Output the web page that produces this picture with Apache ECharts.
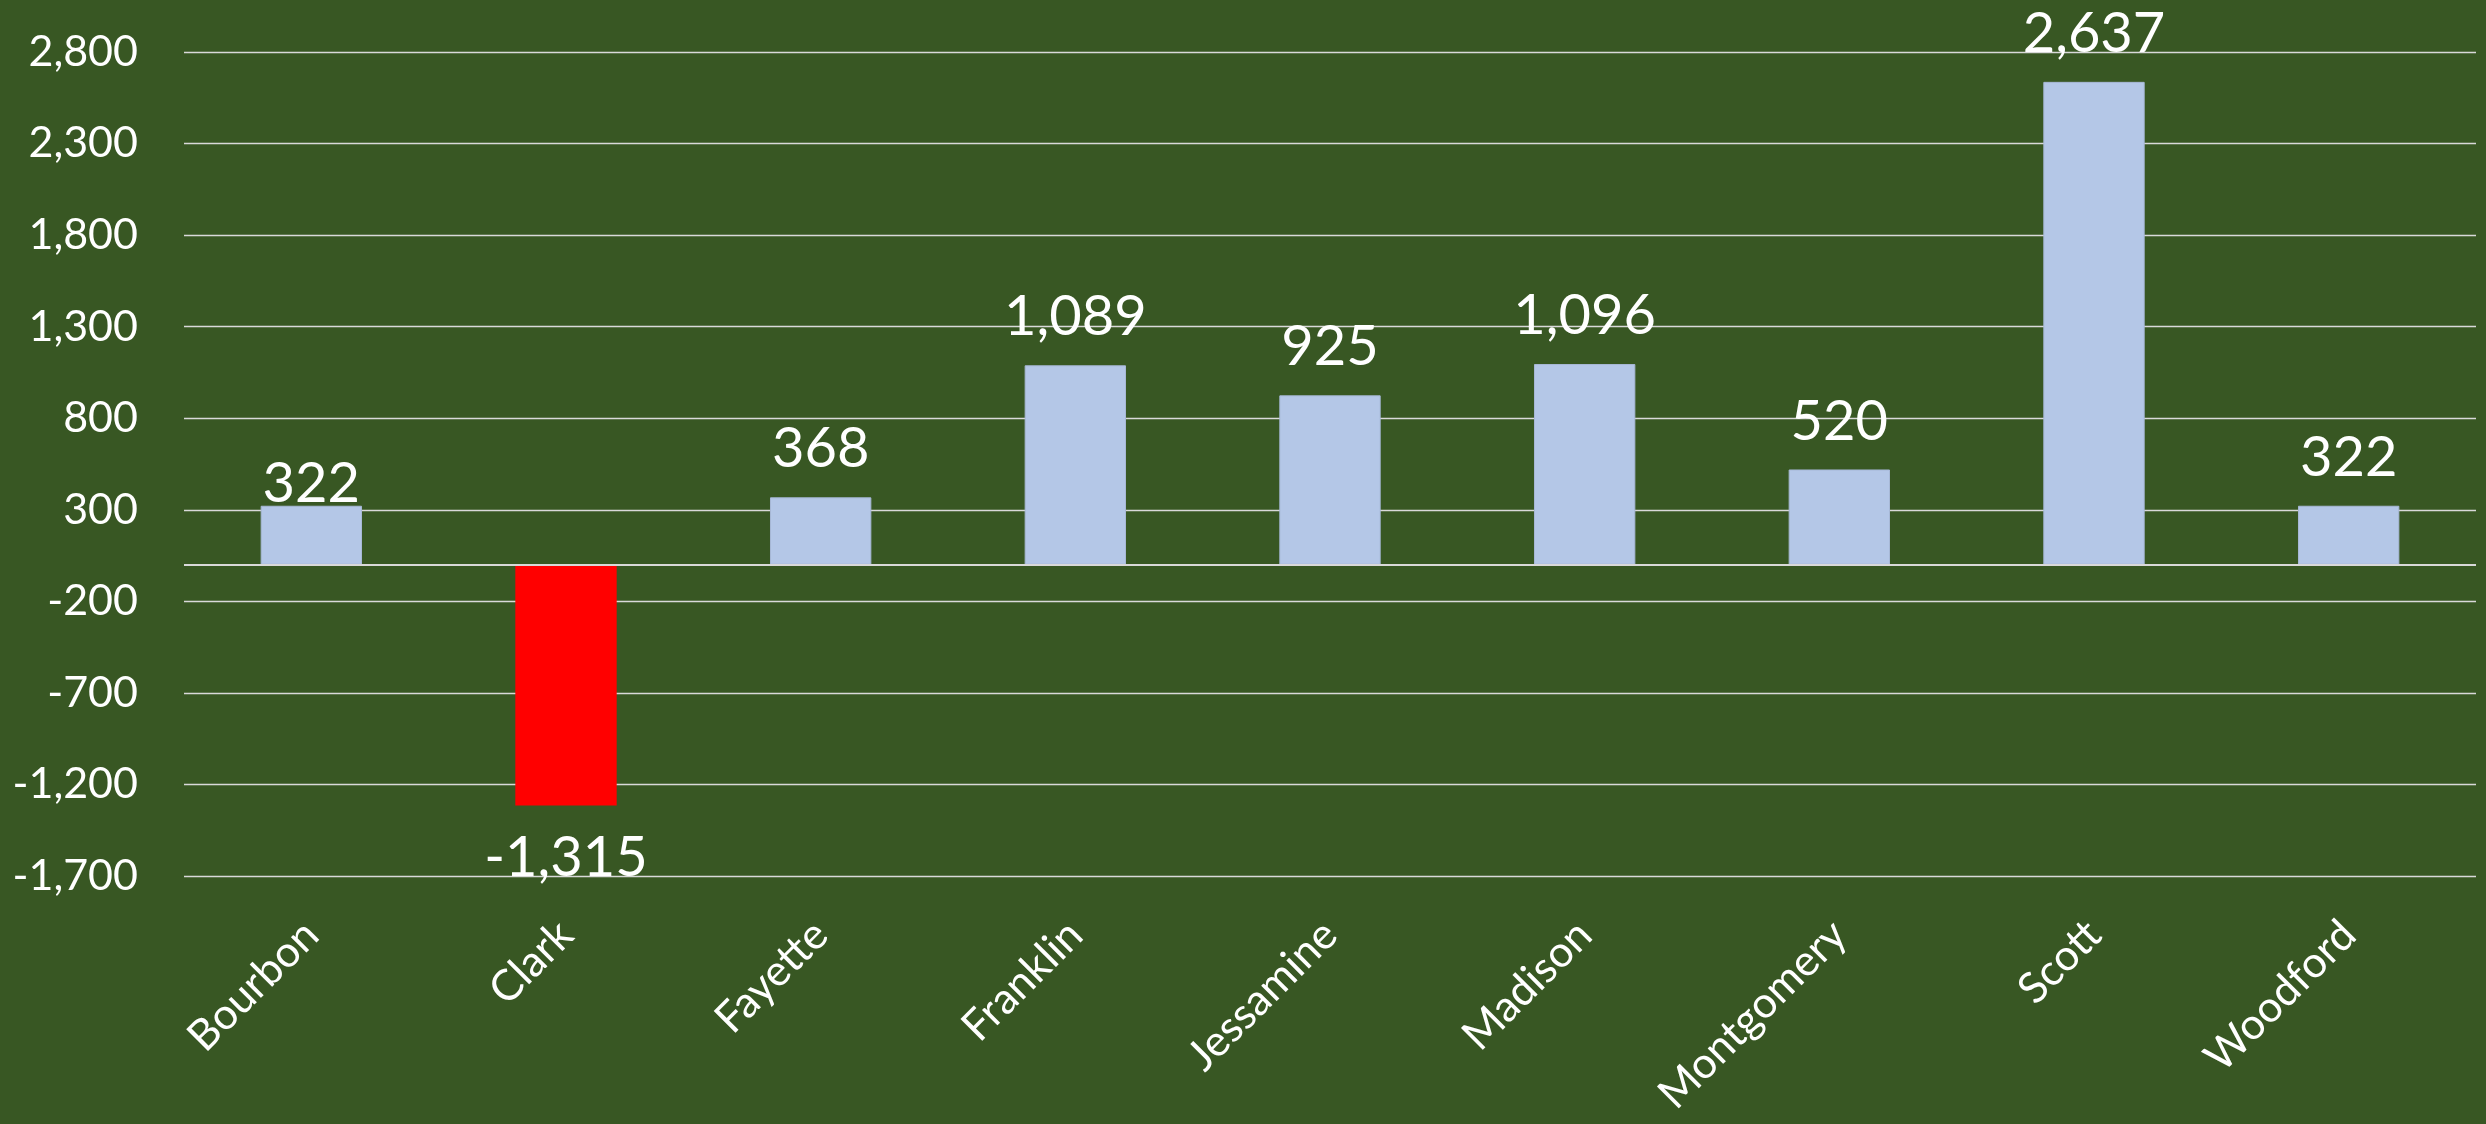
<!DOCTYPE html>
<html>
<head>
<meta charset="utf-8">
<script src="https://cdn.jsdelivr.net/npm/echarts@6/dist/echarts.min.js"></script>
<style>
html,body{margin:0;padding:0;background:#385723;}
#chart{width:2486px;height:1124px;}
</style>
</head>
<body>
<div id="chart"></div>
<script>
const categories = ['Bourbon','Clark','Fayette','Franklin','Jessamine','Madison','Montgomery','Scott','Woodford'];
const values = [322, -1315, 368, 1089, 925, 1096, 520, 2637, 322];
const yTicks = { min: -1700, max: 2800, interval: 500 };

const fmt = v => Number(v).toLocaleString('en-US');

const seriesData = values.map((v, i) => {
  const item = { value: v };
  if (v < 0) {
    item.itemStyle = { color: '#FF0000', borderWidth: 0 };
    item.label = { position: 'bottom', distance: 24 };
  }
  if (i === 0) {
    item.label = { distance: -6 };
  }
  return item;
});

const chart = echarts.init(document.getElementById('chart'), null, { renderer: 'canvas' });
chart.setOption({
  backgroundColor: '#385723',
  animation: false,
  grid: { left: 184, right: 10, top: 52, bottom: 248, containLabel: false },
  xAxis: {
    type: 'category',
    data: categories,
    axisLine: { show: false, onZero: false },
    axisTick: { show: false },
    axisLabel: {
      interval: 0,
      rotate: 45,
      margin: 52,
      color: '#FFFFFF',
      fontFamily: 'Lato',
      fontSize: 43
    }
  },
  yAxis: {
    type: 'value',
    min: yTicks.min,
    max: yTicks.max,
    interval: yTicks.interval,
    axisLine: { show: false },
    axisTick: { show: false },
    splitLine: { show: true, lineStyle: { color: '#D9D9D9', width: 1.3 } },
    axisLabel: {
      margin: 46,
      color: '#FFFFFF',
      fontFamily: 'Lato',
      fontSize: 43,
      formatter: v => fmt(v)
    }
  },
  series: [{
    type: 'bar',
    data: seriesData,
    barWidth: '39.8%',
    itemStyle: { color: '#B4C7E7', borderColor: '#A7B8D6', borderWidth: 1 },
    label: {
      show: true,
      position: 'top',
      distance: 20,
      color: '#FFFFFF',
      fontFamily: 'Lato',
      fontSize: 56,
      formatter: p => fmt(p.value)
    },
    markLine: {
      silent: true,
      symbol: ['none', 'none'],
      label: { show: false },
      lineStyle: { color: '#D9D9D9', width: 2, type: 'solid' },
      data: [{ yAxis: 0 }]
    }
  }]
});
</script>
</body>
</html>
